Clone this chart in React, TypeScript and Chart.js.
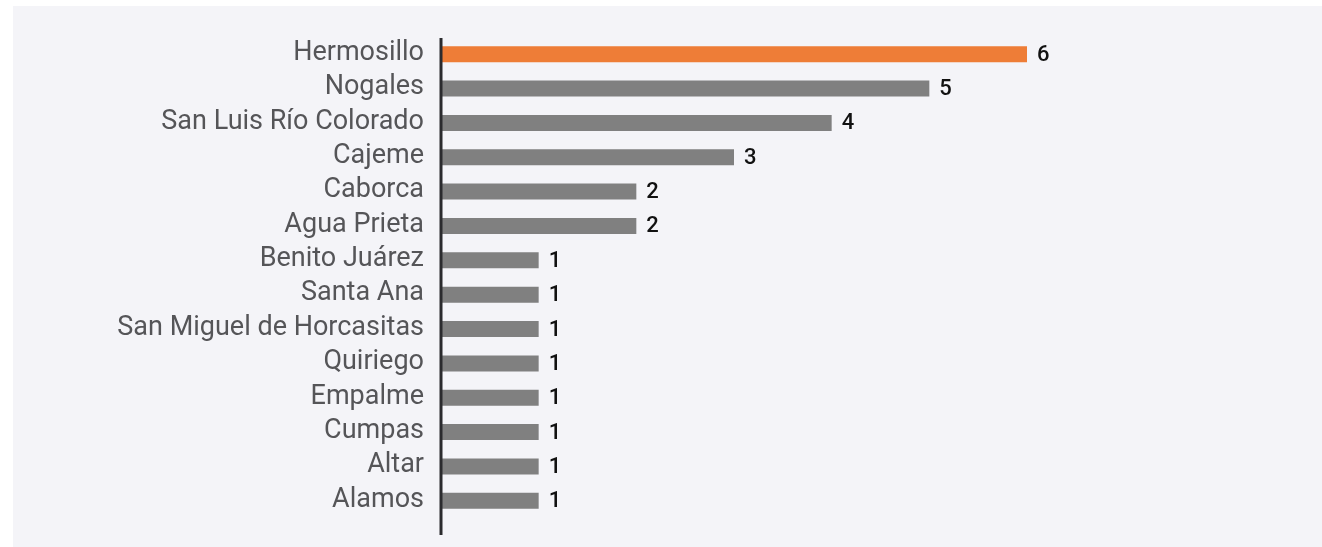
import React, { useEffect, useRef } from "react";
import { Chart, registerables } from "chart.js";

Chart.register(...registerables);

const categories = [
  "Hermosillo",
  "Nogales",
  "San Luis Río Colorado",
  "Cajeme",
  "Caborca",
  "Agua Prieta",
  "Benito Juárez",
  "Santa Ana",
  "San Miguel de Horcasitas",
  "Quiriego",
  "Empalme",
  "Cumpas",
  "Altar",
  "Alamos",
];

const values = [6, 5, 4, 3, 2, 2, 1, 1, 1, 1, 1, 1, 1, 1];

const HIGHLIGHT = "#ee7d37";
const BASE = "#808080";

const valueLabelPlugin = {
  id: "valueLabels",
  afterDatasetsDraw(chart: any) {
    const ctx = chart.ctx;
    const meta = chart.getDatasetMeta(0);
    ctx.save();
    ctx.font = "500 22px Roboto";
    ctx.fillStyle = "#111111";
    ctx.textAlign = "left";
    ctx.textBaseline = "middle";
    meta.data.forEach((bar: any, i: number) => {
      ctx.fillText(String(values[i]), bar.x + 10, bar.y + 1);
    });
    ctx.restore();
  },
};

const axisLinePlugin = {
  id: "axisLine",
  afterDatasetsDraw(chart: any) {
    const { ctx, chartArea } = chart;
    ctx.save();
    ctx.strokeStyle = "#2b2b2e";
    ctx.lineWidth = 3;
    ctx.beginPath();
    ctx.moveTo(chartArea.left, chartArea.top + 1);
    ctx.lineTo(chartArea.left, chartArea.bottom + 17);
    ctx.stroke();
    ctx.restore();
  },
};

export default function App() {
  const ref = useRef<HTMLCanvasElement | null>(null);

  useEffect(() => {
    if (!ref.current) return;
    const chart = new Chart(ref.current, {
      type: "bar",
      data: {
        labels: categories,
        datasets: [
          {
            data: values,
            backgroundColor: values.map((_, i) => (i === 0 ? HIGHLIGHT : BASE)),
            barPercentage: 0.93,
            categoryPercentage: 0.5,
          },
        ],
      },
      options: {
        indexAxis: "y",
        animation: false,
        responsive: true,
        maintainAspectRatio: false,
        layout: { padding: { top: 31, bottom: 29, right: 295, left: 0 } },
        plugins: {
          legend: { display: false },
          tooltip: { enabled: false },
        },
        scales: {
          x: {
            display: false,
            min: 0,
            max: 6,
          },
          y: {
            grid: { display: false, drawTicks: false },
            border: { display: false },
            ticks: {
              color: "#555558",
              font: { family: "Roboto", size: 27 },
              padding: 17,
              labelOffset: -1,
              autoSkip: false,
            },
            afterFit(scale: any) {
              scale.width = 428;
              scale.paddingTop = 0;
              scale.paddingBottom = 0;
            },
          },
        },
      },
      plugins: [valueLabelPlugin, axisLinePlugin],
    });
    return () => chart.destroy();
  }, []);

  return (
    <div style={{ position: "fixed", inset: 0, background: "#ffffff" }}>
      <div
        style={{
          position: "absolute",
          left: 13,
          top: 6,
          right: 0,
          bottom: 0,
          background: "#f4f4f8",
        }}
      >
        <canvas ref={ref} />
      </div>
    </div>
  );
}
